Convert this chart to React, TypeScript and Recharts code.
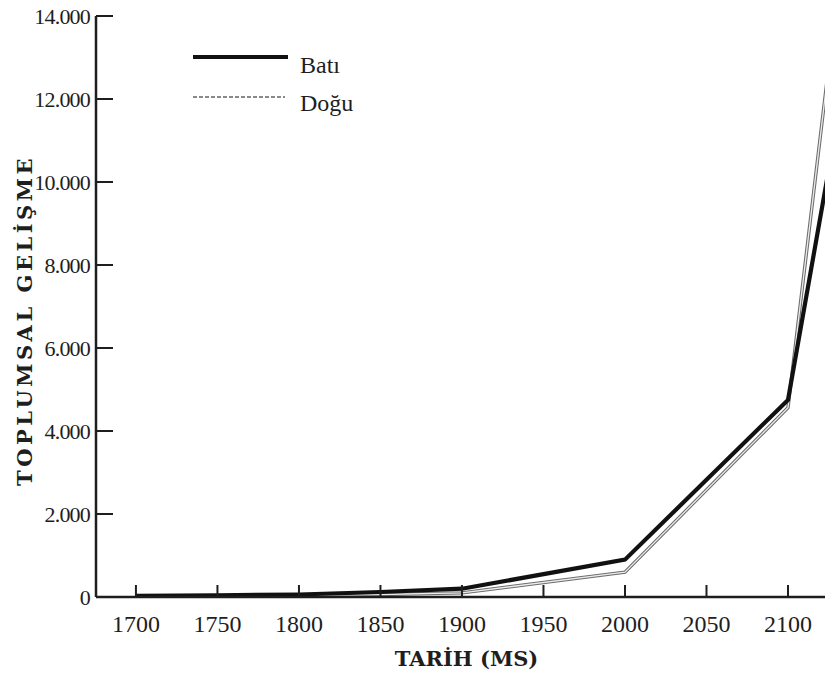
import React from "react";
import { LineChart, Line, XAxis, YAxis } from "recharts";

// values
const years = [1700, 1750, 1800, 1850, 1900, 2000, 2100, 2125];
const batiValues = [30, 40, 60, 120, 200, 900, 4750, 10300];
const doguValues = [20, 25, 35, 60, 100, 600, 4560, 12800];

const xTicks = [1700, 1750, 1800, 1850, 1900, 1950, 2000, 2050, 2100];
const yTicks = [0, 2000, 4000, 6000, 8000, 10000, 12000, 14000];

const seriesNames = { bati: "Batı", dogu: "Doğu" };

const data = years.map((year, i) => ({
  year,
  bati: batiValues[i],
  dogu: doguValues[i],
}));

const fmtY = (v: number) => (v === 0 ? "0" : `${v / 1000}.000`);

const INK = "#1e1e1e";
const SERIF = "'Liberation Serif', 'DejaVu Serif', serif";
const TITLE_FONT = "'DejaVu Serif', serif";

// legend drawn as an overlay so it takes no room from the plot
function LegendBox() {
  return (
    <svg
      width={200}
      height={90}
      style={{ position: "absolute", left: 190, top: 40 }}
    >
      <line x1={3} y1={17} x2={98} y2={17} stroke="#111" strokeWidth={4} />
      <text x={110} y={33} fontFamily={SERIF} fontSize={24} fill={INK}>
        {seriesNames.bati}
      </text>
      <line
        x1={3}
        y1={57}
        x2={95}
        y2={57}
        stroke="#8a8a8a"
        strokeWidth={2.2}
        strokeDasharray="4 2"
      />
      <text x={110} y={71} fontFamily={SERIF} fontSize={24} fill={INK}>
        {seriesNames.dogu}
      </text>
    </svg>
  );
}

function YTitle(props: any) {
  const vb = props.viewBox || { x: 0, y: 0, width: 0, height: 0 };
  const cx = vb.x + 24;
  const cy = vb.y + vb.height / 2 + 14;
  return (
    <text
      x={cx}
      y={cy}
      transform={`rotate(-90 ${cx} ${cy})`}
      textAnchor="middle"
      dominantBaseline="central"
      fontFamily={TITLE_FONT}
      fontWeight="bold"
      fontSize={21}
      letterSpacing={3.5}
      fill={INK}
    >
      TOPLUMSAL GELİŞME
    </text>
  );
}

export default function App() {
  return (
    <div style={{ position: "relative", width: 825, height: 677, background: "#fff" }}>
      <style>{"body{margin:0;overflow:hidden;background:#fff}"}</style>
      <LineChart
        width={825}
        height={677}
        data={data}
        margin={{ top: 16, right: 0, bottom: 0, left: 0 }}
      >
        <XAxis
          dataKey="year"
          type="number"
          domain={[1675.5, 2122.7]}
          allowDataOverflow
          ticks={xTicks}
          interval={0}
          height={80}
          tickSize={-12}
          tickMargin={30}
          axisLine={{ stroke: INK, strokeWidth: 2.5 }}
          tickLine={{ stroke: INK, strokeWidth: 2 }}
          tick={{ fill: INK, fontSize: 24, fontFamily: SERIF }}
          label={{
            value: "TARİH (MS)",
            position: "insideBottom",
            offset: 11,
            dx: 6,
            fill: INK,
            fontSize: 21,
            fontWeight: "bold",
            fontFamily: TITLE_FONT,
          }}
        />
        <YAxis
          type="number"
          domain={[0, 14000]}
          ticks={yTicks}
          interval={0}
          width={96}
          tickFormatter={fmtY}
          tickSize={-17}
          tickMargin={23}
          axisLine={{ stroke: INK, strokeWidth: 2.5 }}
          tickLine={{ stroke: INK, strokeWidth: 2 }}
          tick={{ fill: INK, fontSize: 22, fontFamily: SERIF, letterSpacing: -0.8 }}
          label={<YTitle />}
        />
        <Line
          dataKey="dogu"
          name={seriesNames.dogu}
          stroke="#6c6c6c"
          strokeWidth={3.4}
          dot={false}
          isAnimationActive={false}
        />
        <Line
          dataKey="dogu"
          name={seriesNames.dogu + " "}
          stroke="#ececec"
          strokeWidth={1.3}
          dot={false}
          isAnimationActive={false}
        />
        <Line
          dataKey="bati"
          name={seriesNames.bati}
          stroke="#111"
          strokeWidth={4.2}
          dot={false}
          isAnimationActive={false}
        />
      </LineChart>
      <LegendBox />
    </div>
  );
}
